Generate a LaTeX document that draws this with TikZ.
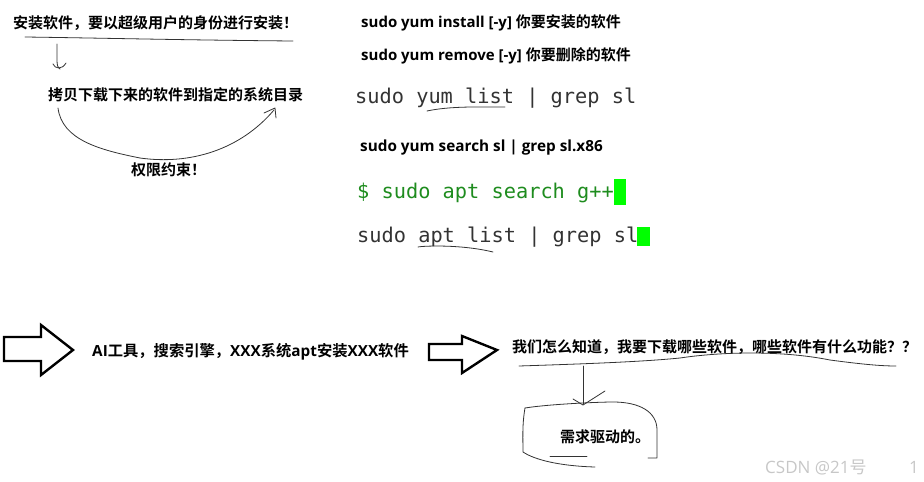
\documentclass[tikz,border=0pt]{standalone}
\usepackage{fontspec}
\newfontfamily\cjk{Noto Sans CJK SC}[BoldFont={Noto Sans CJK SC Bold}]
\newfontfamily\lat{Open Sans}
\newfontfamily\mono{DejaVu Sans Mono}
\definecolor{termgreen}{HTML}{1E8C1E}
\definecolor{cursorgreen}{HTML}{00FF00}
\tikzset{
  cn/.style={anchor=base west, inner sep=0pt, font=\cjk\bfseries\fontsize{15}{15}\selectfont, text=black},
  cnsmall/.style={cn, font=\lat\bfseries\fontsize{15.3}{15.3}\selectfont},
  tt/.style={anchor=base west, inner sep=0pt, font=\mono\fontsize{20.3}{20.3}\selectfont, text=black!80},
  pen/.style={draw=black!80, line width=0.8pt, line cap=round, line join=round},
  bigarrow/.style={draw=black, line width=2.4pt, line join=miter, fill=white},
  wmark/.style={anchor=base west, inner sep=0pt, font=\lat\fontsize{17}{17}\selectfont, text=black!22},
}
\begin{document}
\begin{tikzpicture}[x=1pt,y=-1pt]
\useasboundingbox (0,0) rectangle (924,482);

% ---- top left ----
\node[cn] (t1) at (13,28.5) {安装软件，要以超级用户的身份进行安装！};
\draw[pen] (25,37) .. controls (100,38) and (180,40) .. (293,41);
\coordinate (a1s) at (57,44);
\draw[pen] (a1s) -- (57,60) .. controls (57,66) and (58,68) .. (60,69);
\draw[pen] (53,64) .. controls (55,69) and (62,70) .. (66,63);
\node[cn] (t2) at (48,100.5) {拷贝下载下来的软件到指定的系统目录};
\draw[pen] (58,108) .. controls (62,140) and (100,150) .. (140,158)
  .. controls (190,165) and (240,150) .. (274,110);
\draw[pen] (264,113) -- (275,108) -- (276,118);
\node[cn] (t3) at (131,175.5) {权限约束！};

% ---- top right ----
\node[cn] (r1) at (361,27.5) {{\lat sudo yum install [-y] }你要安装的软件};
\node[cn] (r2) at (361,60.5) {{\lat sudo yum remove [-y] }你要删除的软件};
\node[tt] (r3) at (355,103) {sudo yum list | grep sl};
\draw[pen] (427,111) .. controls (450,106) and (480,107) .. (505,107);
\node[cnsmall] (r4) at (360,151) {sudo yum search sl | grep sl.x86};
\node[tt, text=termgreen] (r5) at (357,198) {\$ sudo apt search g++};
\fill[cursorgreen] (614,179) rectangle (626,205);
\node[tt] (r6) at (357,242) {sudo apt list | grep sl};
\fill[cursorgreen] (637,227) rectangle (650,246);
\draw[pen] (418,247) .. controls (422,246) and (460,244) .. (493,252);

% ---- bottom ----
\draw[bigarrow] (4,337) -- (41,337) -- (41,325) -- (73,350) -- (41,375) -- (41,361) -- (4,361) -- cycle;
\node[cn, font=\cjk\bfseries\fontsize{15.3}{15.3}\selectfont] (b1) at (92,356.5) {{\lat AI}工具，搜索引擎，{\lat XXX}系统{\lat apt}安装{\lat XXX}软件};
\draw[bigarrow] (429,344) -- (462,344) -- (462,336) -- (497,350) -- (462,373) -- (462,360) -- (429,360) -- cycle;
\node[cn] (b2) at (512,352.5) {我们怎么知道，我要下载哪些软件，哪些软件有什么功能？？};
\draw[pen] (519,366) .. controls (580,364) and (640,362) .. (680,358)
  .. controls (720,352) and (780,350) .. (830,360)
  .. controls (860,364) and (880,366) .. (896,366);
\draw[pen] (583,366) -- (583,404);
\draw[pen] (573,399) -- (583,405) -- (605,391);
\draw[pen] (525,408) .. controls (550,404) and (600,402) .. (613,402)
  .. controls (640,402) and (657,412) .. (657,430) -- (657,458) -- (648,458);
\draw[pen] (525,408) .. controls (522,425) and (523,440) .. (523,452)
  .. controls (535,460) and (560,466) .. (595,467);
\draw[pen] (550,456) -- (587,456);
\node[cn] (b3) at (560,442.5) {需求驱动的。};

% ---- watermark ----
\node[wmark] (wm) at (765,473) {CSDN @21{\cjk 号}};
\node[wmark] (wm2) at (909,473) {1};
\end{tikzpicture}
\end{document}
